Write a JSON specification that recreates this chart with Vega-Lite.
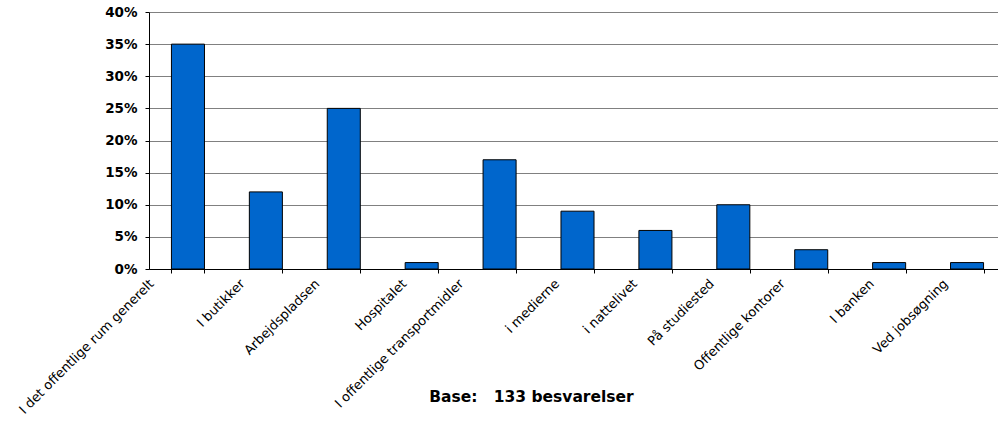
{
  "$schema": "https://vega.github.io/schema/vega-lite/v6.json",
  "width": 857,
  "height": 257,
  "autosize": {"type": "none"},
  "padding": {"left": 149, "top": 12, "right": 0, "bottom": 153},
  "background": "white",
  "config": {"view": {"stroke": null}, "font": "DejaVu Sans"},
  "data": {"values": [
    {"category": "I det offentlige rum generelt", "pct": 0.35},
    {"category": "I butikker", "pct": 0.12},
    {"category": "Arbejdspladsen", "pct": 0.25},
    {"category": "Hospitalet", "pct": 0.01},
    {"category": "I offentlige transportmidler", "pct": 0.17},
    {"category": "i medierne", "pct": 0.09},
    {"category": "i nattelivet", "pct": 0.06},
    {"category": "På studiested", "pct": 0.10},
    {"category": "Offentlige kontorer", "pct": 0.03},
    {"category": "I banken", "pct": 0.01},
    {"category": "Ved jobsøgning", "pct": 0.01}
  ]},
  "mark": {"type": "bar", "fill": "#0066CC", "stroke": "#000000", "strokeWidth": 1},
  "encoding": {
    "x": {
      "field": "category", "type": "nominal", "sort": null,
      "scale": {"paddingInner": 0.576, "paddingOuter": 0.288},
      "axis": {
        "title": "Base:\u00a0\u00a0\u00a0133 besvarelser",
        "titleFont": "DejaVu Sans", "titleFontSize": 15.5, "titleFontWeight": "bold", "titleColor": "#000000",
        "titleX": 382, "titleY": 127, "titleAlign": "center", "titleBaseline": "middle", "titleAnchor": null,
        "labelAngle": -45, "labelAlign": "right", "labelBaseline": "top",
        "labelFont": "DejaVu Sans", "labelFontSize": 13, "labelColor": "#000000",
        "labelPadding": 4, "labelLimit": 400,
        "labelOffset": {
          "condition": [
            {"test": "datum.label === 'I det offentlige rum generelt'", "value": -41},
            {"test": "datum.label === 'I butikker'", "value": -28},
            {"test": "datum.label === 'Arbejdspladsen'", "value": -31},
            {"test": "datum.label === 'Hospitalet'", "value": -22},
            {"test": "datum.label === 'I offentlige transportmidler'", "value": -43},
            {"test": "datum.label === 'På studiested'", "value": -26},
            {"test": "datum.label === 'Offentlige kontorer'", "value": -33},
            {"test": "datum.label === 'I banken'", "value": -22},
            {"test": "datum.label === 'Ved jobsøgning'", "value": -26}
          ],
          "value": -25
        },
        "tickBand": "extent", "ticks": true, "tickSize": 4, "tickColor": "#000000",
        "domainColor": "#000000", "domainWidth": 1, "grid": false, "labelOverlap": false
      }
    },
    "y": {
      "field": "pct", "type": "quantitative",
      "scale": {"domain": [0, 0.4], "nice": false},
      "axis": {
        "title": null, "format": ".0%", "values": [0, 0.05, 0.1, 0.15, 0.2, 0.25, 0.3, 0.35, 0.4],
        "labelFont": "DejaVu Sans", "labelFontSize": 13.5, "labelFontWeight": "bold", "labelColor": "#000000",
        "tickSize": 4, "tickColor": "#000000", "labelPadding": 8,
        "domainColor": "#000000", "grid": true, "gridColor": "#808080", "gridWidth": 1
      }
    }
  }
}
